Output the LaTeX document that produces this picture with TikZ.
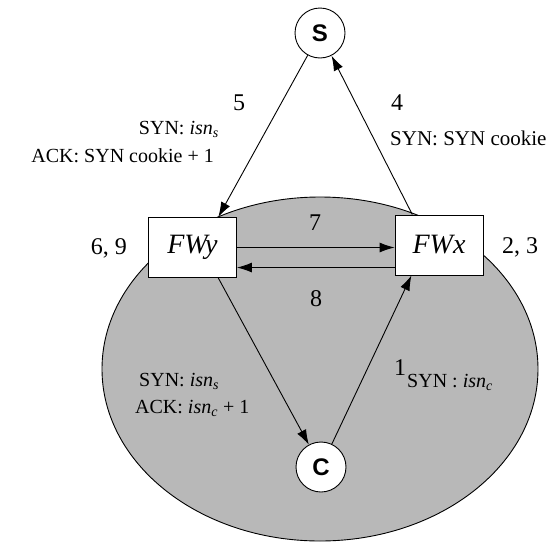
\documentclass[tikz,border=0pt]{standalone}
\usepackage{fontspec}
\setmainfont{Liberation Serif}
\newfontfamily\lsans{Liberation Sans}
\usetikzlibrary{arrows.meta,calc}
\begin{document}
\begin{tikzpicture}[x=1pt,y=-1pt,
  lab/.style={font=\fontsize{20}{22}\selectfont, inner sep=0pt},
  num/.style={font=\fontsize{24}{26}\selectfont, inner sep=0pt},
  fw/.style={draw, fill=white, minimum width=88pt, minimum height=60pt, inner sep=0pt, font=\fontsize{28}{30}\selectfont\itshape, line width=0.9pt},
  host/.style={circle, draw, fill=white, minimum size=50pt, inner sep=0pt, font=\lsans\bfseries\fontsize{24}{26}\selectfont, line width=0.9pt},
  arr/.style={-{Latex[length=15pt,width=10pt]}, line width=0.9pt}]
\useasboundingbox (0,0) rectangle (560,544);
\filldraw[fill=black!28, line width=0.9pt] (320,369) ellipse [x radius=218pt, y radius=172pt];
\node[host] (s) at (320,33) {S};
\node[host] (c) at (321,467) {C};
\node[fw] (fwy) at (192.5,247.5) {FWy};
\node[fw] (fwx) at (439,245) {FWx};
% connector end points on the boxes
\coordinate (ytop) at ($(fwy.north west)!0.79!(fwy.north east)$);
\coordinate (ybot) at ($(fwy.south west)!0.79!(fwy.south east)$);
\coordinate (xtop) at ($(fwx.north west)!0.2!(fwx.north east)$);
\coordinate (xbot) at ($(fwx.south west)!0.19!(fwx.south east)$);
\coordinate (xlow) at ($(fwx.south west)!0.13!(fwx.north west)$);
\draw[arr] (s) -- (ytop);
\draw[arr] (xtop) -- (s);
\draw[arr] (ybot) -- (c);
\draw[arr] (c) -- (xbot);
\draw[arr] (fwy.east) -- (fwy.east -| fwx.west);
\draw[arr] (xlow) -- (xlow -| fwy.east);
% numbers
\node[num] (n5) at (239,103) {5};
\node[num] (n4) at (397,103) {4};
\node[num, anchor=east] (n69) at (127,248) {6, 9};
\node[num, anchor=west] (n23) at (502,247) {2, 3};
\node[num] (n7) at (315,223) {7};
\node[num] (n8) at (316,299) {8};
\node[num] (n1) at (400,368) {1};
% labels
\node[lab, anchor=base east] (l5a) at (219,134) {SYN: \textit{isn}\textsubscript{\textit{s}}};
\node[lab, anchor=base east] (l5b) at (214,162) {ACK: SYN cookie + 1};
\node[font=\fontsize{21}{23}\selectfont, inner sep=0pt, anchor=base west] (l4) at (390,145) {SYN: SYN cookie};
\node[lab, anchor=base west] (lya) at (139,386) {SYN: \textit{isn}\textsubscript{\textit{s}}};
\node[lab, anchor=base west] (lyb) at (135,413) {ACK: \textit{isn}\textsubscript{\textit{c}} + 1};
\node[lab, anchor=base west] (l1) at (407,387) {SYN : \textit{isn}\textsubscript{\textit{c}}};
\end{tikzpicture}
\end{document}
